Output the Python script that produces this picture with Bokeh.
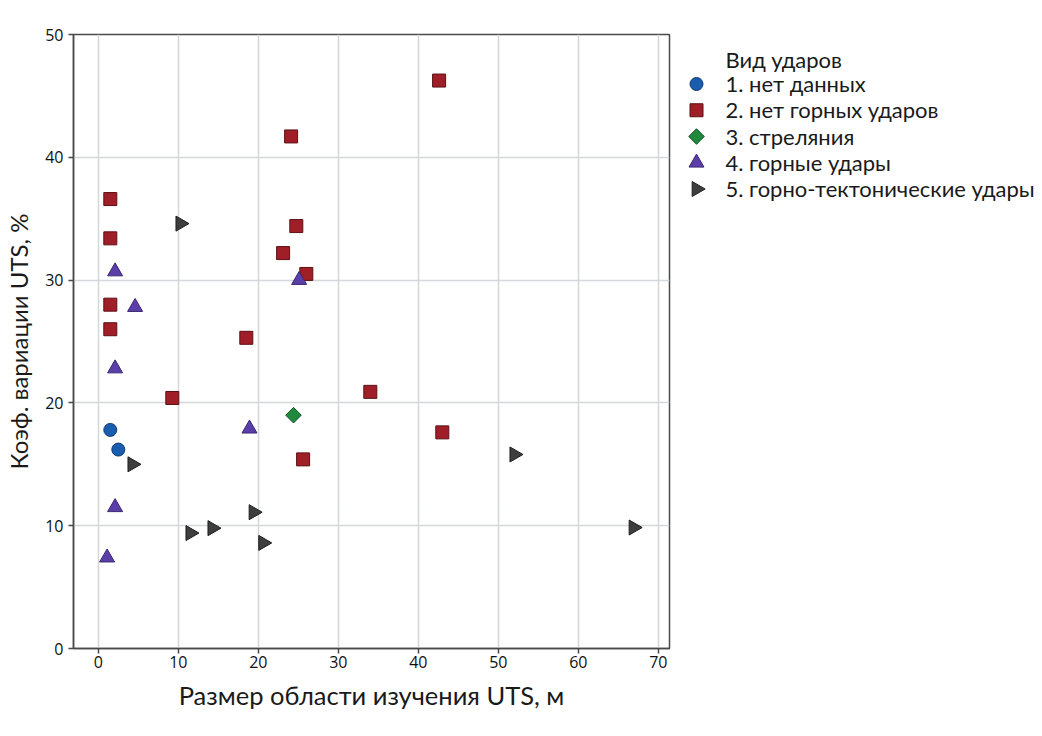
from bokeh.plotting import figure
from bokeh.models import Range1d, FixedTicker
from bokeh.layouts import row
from bokeh.core.properties import value
from bokeh.embed import file_html
from bokeh.resources import INLINE
import math

# ---- data ----
no_data_x = [1.5, 2.5]
no_data_y = [17.8, 16.2]

no_bursts_x = [42.6, 24.1, 1.5, 1.5, 24.75, 23.1, 26.0, 1.5, 1.5, 18.5, 9.25, 34.0, 43.0, 25.6]
no_bursts_y = [46.25, 41.7, 36.6, 33.4, 34.4, 32.2, 30.5, 28.0, 26.0, 25.3, 20.4, 20.9, 17.6, 15.4]

shooting_x = [24.4]
shooting_y = [19.0]

bursts_x = [2.1, 4.6, 25.1, 2.1, 18.9, 2.1, 1.1]
bursts_y = [30.7, 27.8, 30.0, 22.8, 17.9, 11.5, 7.4]

tectonic_x = [10.25, 4.25, 11.5, 14.25, 19.4, 20.6, 52.0, 66.9]
tectonic_y = [34.6, 15.0, 9.4, 9.8, 11.1, 8.6, 15.8, 9.85]

series_labels = ["1. нет данных", "2. нет горных ударов", "3. стреляния",
                 "4. горные удары", "5. горно-тектонические удары"]
legend_title = "Вид ударов"
x_label = "Размер области изучения UTS, м"
y_label = "Коэф. вариации UTS, %"
x_ticks = [0, 10, 20, 30, 40, 50, 60, 70]
y_ticks = [0, 10, 20, 30, 40, 50]

FONT = "Lato"
TICK_FONT = "Open Sans"

# marker styles per series: (marker, size, angle, fill, line)
styles = [
    ("circle", 13, 0.0, "#1a5cae", "#0e3a75"),
    ("square", 13, 0.0, "#a01e27", "#5c1015"),
    ("square", 11, math.pi / 4, "#1f8a3e", "#125225"),
    ("triangle", 15, 0.0, "#5b3fa8", "#3b2772"),
    ("triangle", 15, -math.pi / 2, "#3e3e3e", "#1e1e1e"),
]
series = [(no_data_x, no_data_y), (no_bursts_x, no_bursts_y), (shooting_x, shooting_y),
          (bursts_x, bursts_y), (tectonic_x, tectonic_y)]

TOP, FH, BOTTOM = 34, 614, 80

p = figure(frame_width=596, frame_height=FH, output_backend="svg", toolbar_location=None,
           x_range=Range1d(-3.1, 71.4), y_range=Range1d(0, 50),
           min_border_left=73, min_border_right=3, min_border_top=TOP,
           min_border_bottom=BOTTOM)

p.outline_line_color = "#4a4a4a"
p.outline_line_width = 1.5

for ax in (p.xaxis[0], p.yaxis[0]):
    ax.axis_line_color = "#4a4a4a"
    ax.axis_line_width = 1.5
    ax.major_tick_line_color = "#4a4a4a"
    ax.major_tick_line_width = 1.5
    ax.major_tick_out = 5
    ax.major_tick_in = 0
    ax.minor_tick_line_color = None
    ax.major_label_text_font = TICK_FONT
    ax.major_label_text_font_size = "16px"
    ax.major_label_text_color = "#111111"
    ax.axis_label_text_font = FONT
    ax.axis_label_text_font_style = "normal"
    ax.axis_label_text_color = "#1a1a1a"

p.xaxis[0].axis_label_text_font_size = "25.5px"
p.yaxis[0].axis_label_text_font_size = "24px"
p.xaxis[0].ticker = FixedTicker(ticks=x_ticks)
p.yaxis[0].ticker = FixedTicker(ticks=y_ticks)
p.xaxis[0].axis_label = x_label
p.yaxis[0].axis_label = y_label
p.xaxis[0].major_label_standoff = 2
p.xaxis[0].axis_label_standoff = 9
p.yaxis[0].major_label_standoff = 5
p.yaxis[0].axis_label_standoff = 9

p.grid.grid_line_color = "#d4d7da"
p.grid.grid_line_width = 1.5
p.xgrid.ticker = FixedTicker(ticks=x_ticks)
p.ygrid.ticker = FixedTicker(ticks=y_ticks)

for (xs, ys), (mk, sz, ang, fc, lc) in zip(series, styles):
    p.scatter(xs, ys, marker=mk, size=sz, angle=ang,
              fill_color=fc, line_color=lc, line_width=1)

# ---- legend panel: an axis-free figure with the same vertical structure,
# its y range expressed in page pixels from the top ----
LW = 365
leg = figure(frame_width=LW, frame_height=FH, output_backend="svg", toolbar_location=None,
             x_range=Range1d(0, LW), y_range=Range1d(TOP + FH, TOP),
             x_axis_type=None, y_axis_type=None,
             min_border_left=0, min_border_right=0,
             min_border_top=TOP, min_border_bottom=BOTTOM)
leg.outline_line_color = None
leg.grid.visible = False

item_x, text_x, first_y, step, title_y = 24, 53, 83, 26.25, 58.5
leg.text([text_x], [title_y], text=[legend_title], text_font=value(FONT),
         text_font_size="22px", text_color="#1a1a1a", text_baseline="middle")
for i, (lab, (mk, sz, ang, fc, lc)) in enumerate(zip(series_labels, styles)):
    yy = first_y + i * step
    leg.scatter([item_x], [yy + 0.5], marker=mk, size=sz, angle=ang,
                fill_color=fc, line_color=lc, line_width=1)
    leg.text([text_x], [yy], text=[lab], text_font=value(FONT),
             text_font_size="22px", text_color="#1a1a1a", text_baseline="middle")

layout = row(p, leg)
open("out.html", "w").write(file_html(layout, INLINE))
